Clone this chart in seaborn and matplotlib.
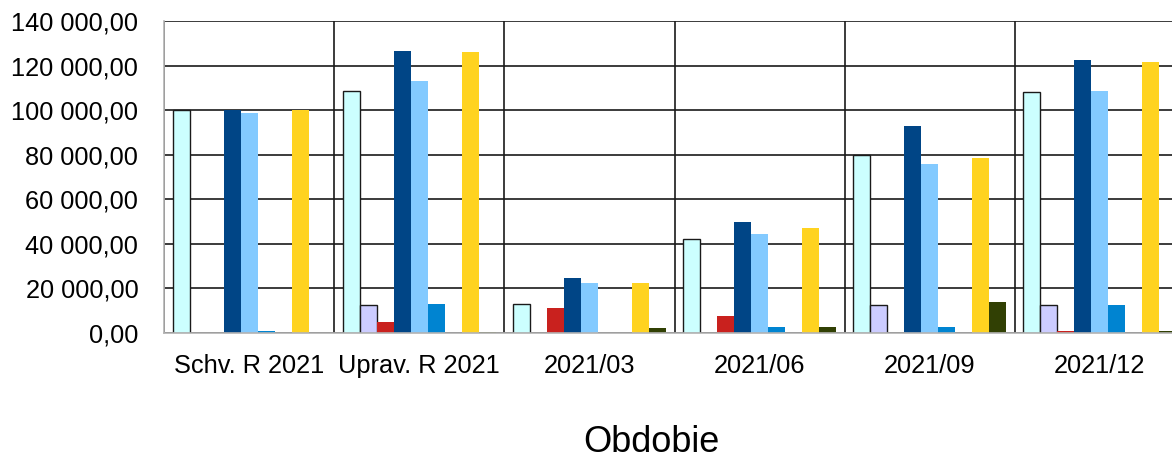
import numpy as np
import pandas as pd
import matplotlib
matplotlib.use("Agg")
import matplotlib.pyplot as plt
import matplotlib.colors as mcolors
import seaborn as sns
from matplotlib.ticker import FuncFormatter, MultipleLocator, FixedLocator

categories = ["Schv. R 2021", "Uprav. R 2021", "2021/03", "2021/06", "2021/09", "2021/12"]
series_names = ["Rad 1", "Rad 2", "Rad 3", "Rad 4", "Rad 5", "Rad 6", "Rad 7", "Rad 8", "Rad 9"]
series_colors = ["#CCFFFF", "#CCCCFF", "#C9211E", "#004586", "#83CAFF",
                 "#0084D1", "#FF950E", "#FFD320", "#314004"]
outlined_colors = ["#CCFFFF", "#CCCCFF"]

rad1 = [100000, 108500, 13000, 42100, 79800, 108300]
rad2 = [0, 12700, 0, 0, 12700, 12700]
rad3 = [0, 5100, 11400, 7600, 0, 700]
rad4 = [99900, 126500, 24700, 49900, 92700, 122300]
rad5 = [98500, 112900, 22600, 44300, 75700, 108700]
rad6 = [1000, 13000, 0, 2500, 2500, 12400]
rad7 = [0, 0, 0, 0, 0, 0]
rad8 = [100000, 125900, 22500, 46900, 78600, 121400]
rad9 = [0, 400, 2100, 2700, 14100, 700]
all_series = [rad1, rad2, rad3, rad4, rad5, rad6, rad7, rad8, rad9]

rows = []
for name, vals in zip(series_names, all_series):
    for cat, v in zip(categories, vals):
        rows.append({"Obdobie": cat, "Rad": name, "Hodnota": v})
df = pd.DataFrame(rows)

sns.set_style("white")
plt.rcParams["font.family"] = ["Liberation Sans", "DejaVu Sans"]

W, H = 1172, 459
fig = plt.figure(figsize=(W / 100, H / 100), dpi=100)
ax = fig.add_axes([164 / W, (H - 333) / H, (1185 - 164) / W, (333 - 21) / H])

sns.barplot(data=df, x="Obdobie", y="Hodnota", hue="Rad", order=categories,
            hue_order=series_names, palette=dict(zip(series_names, series_colors)),
            width=0.9, errorbar=None, saturation=1, legend=False, ax=ax, zorder=3)

outlined_rgb = [mcolors.to_rgb(c) for c in outlined_colors]
for p in ax.patches:
    h = p.get_height()
    if h == 0 or np.isnan(h):
        p.set_visible(False)
        continue
    fc = mcolors.to_rgb(p.get_facecolor())
    if any(np.allclose(fc, oc, atol=0.01) for oc in outlined_rgb):
        p.set_edgecolor("#1a1a1a")
        p.set_linewidth(1.0)
    else:
        p.set_linewidth(0)

ax.set_ylim(0, 140000)
ax.set_xlim(-0.5, len(categories) - 0.5)
ax.yaxis.set_major_locator(MultipleLocator(20000))
ax.yaxis.set_major_formatter(FuncFormatter(
    lambda v, _: f"{v:,.2f}".replace(",", " ").replace(".", ",")))

ax.xaxis.set_minor_locator(FixedLocator(np.arange(-0.5, len(categories), 1.0)))
ax.grid(False)
ax.yaxis.grid(True, which="major", color="#1a1a1a", linewidth=1.2, zorder=1)
ax.xaxis.grid(True, which="minor", color="#1a1a1a", linewidth=1.2, zorder=1)
ax.set_axisbelow(True)

for s in ["top", "right"]:
    ax.spines[s].set_visible(False)
for s in ["left", "bottom"]:
    ax.spines[s].set_color("#b3b3b3")
    ax.spines[s].set_linewidth(1.2)
    ax.spines[s].set_zorder(4)

ax.tick_params(axis="y", which="major", direction="out", length=5, width=1,
               color="#b3b3b3", labelsize=18.3, pad=13.5, labelcolor="black")
ax.tick_params(axis="x", which="major", length=0, labelsize=18.3, pad=15, labelcolor="black")
ax.tick_params(axis="x", which="minor", direction="out", length=6, width=1, color="#b3b3b3")

ax.set_xlabel("")
ax.set_ylabel("")
fig.text(651 / W, 1 - 442 / H, "Obdobie", ha="center", va="center", fontsize=26, color="black")

fig.savefig("out.png", dpi=100)
